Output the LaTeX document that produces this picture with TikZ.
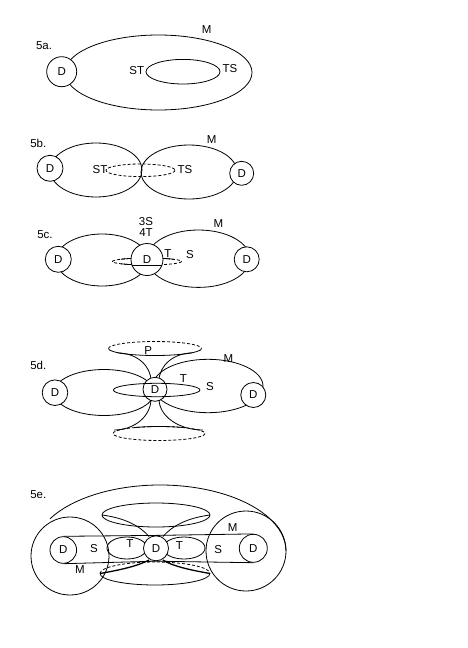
\documentclass[tikz,border=0pt]{standalone}
\usepackage{fontspec}
\setmainfont{Liberation Sans}
\newcommand{\lblfont}{\fontsize{11.5}{13}\selectfont}
\begin{document}
\begin{tikzpicture}[x=1pt,y=-1pt,
  ln/.style={line width=0.8pt},
  thk/.style={line width=1.3pt},
  dsh/.style={line width=0.8pt,dash pattern=on 3pt off 2pt},
  dcirc/.style={circle,draw,line width=0.8pt,fill=white,inner sep=0pt,font=\lblfont},
  dring/.style={circle,draw,line width=0.8pt,inner sep=0pt,font=\lblfont},
  lbl/.style={inner sep=0pt,font=\lblfont}]
\useasboundingbox (0,0) rectangle (468,648);
% ---------- 5a ----------
\draw[ln] (158.5,72.5) ellipse [x radius=93.5, y radius=37.5];
\draw[ln] (183,71.7) ellipse [x radius=37, y radius=12.3];
\node[dcirc,minimum size=30pt] (a-d) at (61.7,71.7) {D};
\node[lbl] (a-lab) at (44,46) {5a.};
\node[lbl] (a-m) at (206.7,30) {M};
\node[lbl] (a-st) at (136.7,70.7) {ST};
\node[lbl] (a-ts) at (230,68.3) {TS};
% ---------- 5b ----------
\draw[ln] (96,170) ellipse [x radius=46, y radius=27];
\draw[ln] (189,172) ellipse [x radius=48, y radius=27];
\draw[dsh] (140.5,170.3) ellipse [x radius=34.5, y radius=6.3];
\node[dcirc,minimum size=26pt] (b-d1) at (50,168.3) {D};
\node[dcirc,minimum size=24pt] (b-d2) at (241.7,173.3) {D};
\node[lbl] (b-lab) at (38.3,143.3) {5b.};
\node[lbl] (b-m) at (211.7,140) {M};
\node[lbl] (b-st) at (100,170) {ST};
\node[lbl] (b-ts) at (185,170) {TS};
% ---------- 5c ----------
\draw[ln] (102,260) ellipse [x radius=46, y radius=26];
\draw[ln] (198.5,258.7) ellipse [x radius=51.5, y radius=28.7];
\draw[dsh] (147,261.5) ellipse [x radius=34.5, y radius=3.5];
\draw[ln] ([shift={(147,261.5)}]221:34.5 and 3.5) arc[start angle=221,end angle=243.3,x radius=34.5,y radius=3.5];
\draw[ln] ([shift={(147,261.5)}]116.7:34.5 and 3.5) arc[start angle=116.7,end angle=139,x radius=34.5,y radius=3.5];
\draw[ln] ([shift={(147,261.5)}]297.6:34.5 and 3.5) arc[start angle=297.6,end angle=321.5,x radius=34.5,y radius=3.5];
\node[dcirc,minimum size=26pt] (c-d1) at (58.3,259.3) {D};
\node[dcirc,minimum size=32pt] (c-d2) at (147,259.5) {D};
\node[dcirc,minimum size=25pt] (c-d3) at (246.7,259.3) {D};
\draw[ln] (132.2,265.2) -- (161.8,265.2);
\node[lbl] (c-lab) at (45,235) {5c.};
\node[lbl] (c-3s) at (146,222) {3S};
\node[lbl] (c-4t) at (146,233) {4T};
\node[lbl] (c-m) at (218.3,224) {M};
\node[lbl] (c-s) at (190,254.3) {S};
\node[lbl] (c-t) at (168,254) {T};
% ---------- 5d ----------
\draw[ln] (104,392.5) ellipse [x radius=50, y radius=23];
\draw[ln] (208,386) ellipse [x radius=55, y radius=26.7];
\draw[dsh] (108.5,348.5) arc[start angle=180,end angle=360,x radius=46.5,y radius=7];
\draw[ln] (201.5,348.5) arc[start angle=0,end angle=180,x radius=46.5,y radius=7];
\draw[ln] (118,353) arc[start angle=270,end angle=360,x radius=33,y radius=28];
\draw[ln] (192,353) arc[start angle=270,end angle=180,x radius=33,y radius=28];
\draw[dsh] (159,433.5) ellipse [x radius=46, y radius=7];
\draw[ln] ([shift={(159,433.5)}]238.5:46 and 7) arc[start angle=238.5,end angle=304.4,x radius=46,y radius=7];
\draw[ln] (151,399) arc[start angle=0,end angle=90,x radius=37,y radius=31];
\draw[ln] (159,399) arc[start angle=180,end angle=90,x radius=44,y radius=31];
\fill[white] (155,389.3) circle (12);
\draw[ln] (156.7,390) ellipse [x radius=43.3, y radius=6.7];
\node[dcirc,minimum size=25.6pt] (d-d1) at (55,392.7) {D};
\node[dring,minimum size=24pt] (d-d2) at (155,389.3) {D};
\node[dcirc,minimum size=25pt] (d-d3) at (253.3,395) {D};
\node[lbl] (d-lab) at (38.3,365) {5d.};
\node[lbl] (d-p) at (148.3,351) {P};
\node[lbl] (d-m) at (228.3,359) {M};
\node[lbl] (d-t) at (183.3,379) {T};
\node[lbl] (d-s) at (210,386.7) {S};
% ---------- 5e ----------
\draw[ln] (70,556) circle (39);
\draw[ln] (246,551) circle (40);
\draw[ln] (50,518.8) arc[start angle=209.2,end angle=360,x radius=126,y radius=66];
\draw[ln] (156,515) ellipse [x radius=54, y radius=12];
\draw[ln] (102,515) .. controls (125,518) and (140,526) .. (149,536.5);
\draw[ln] (210,515) .. controls (187,518) and (172,526) .. (163,536.5);
\draw[dsh] (100,573.5) arc[start angle=180,end angle=360,x radius=55,y radius=11.5];
\draw[ln] (210,573.5) arc[start angle=0,end angle=180,x radius=55,y radius=11.5];
\draw[thk] (100,573.5) .. controls (120,570) and (138,566) .. (149,560);
\draw[thk] (210,573.5) .. controls (190,570) and (172,566) .. (163,560);
\draw[ln] (127,548) ellipse [x radius=20, y radius=11];
\draw[ln] (184,548) ellipse [x radius=21, y radius=11];
\node[dcirc,minimum size=26.6pt] (e-d1) at (63.3,550) {D};
\node[dcirc,minimum size=25pt] (e-d2) at (156,548.3) {D};
\node[dcirc,minimum size=28pt] (e-d3) at (253.3,548.3) {D};
\draw[ln] (e-d1.north) -- (e-d2.north) -- (e-d3.north);
\draw[ln] (e-d1.south) -- (e-d2.south) -- (e-d3.south);
\node[lbl] (e-lab) at (38.3,495) {5e.};
\node[lbl] (e-s1) at (94,548.3) {S};
\node[lbl] (e-s2) at (218.3,550) {S};
\node[lbl] (e-m1) at (80,570) {M};
\node[lbl] (e-m2) at (232.7,527.3) {M};
\node[lbl] (e-t1) at (130,544) {T};
\node[lbl] (e-t2) at (179.3,546) {T};
\end{tikzpicture}
\end{document}
